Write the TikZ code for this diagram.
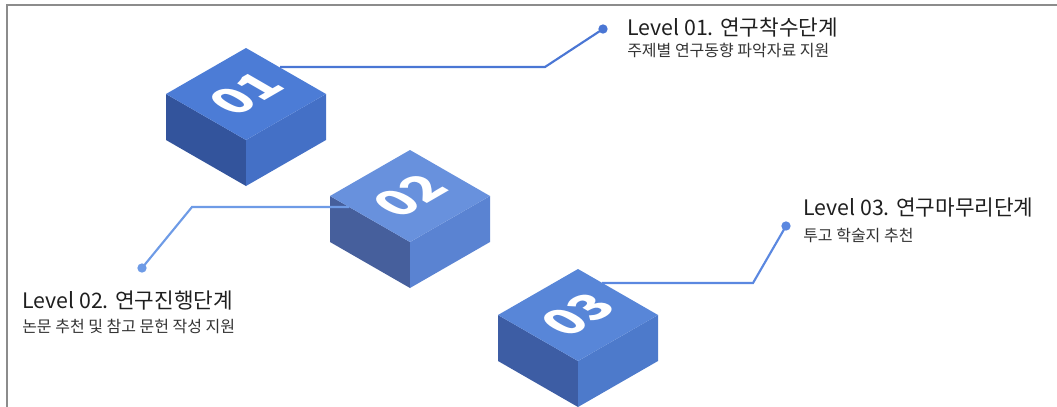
\documentclass[tikz,border=0pt]{standalone}
\usepackage{fontspec}
\newfontfamily\krfont{Noto Sans CJK KR}
\usepackage{tikz}
\definecolor{topA}{HTML}{4C7CD6}
\definecolor{leftA}{HTML}{33549C}
\definecolor{rightA}{HTML}{4470C6}
\definecolor{topB}{HTML}{6891DD}
\definecolor{leftB}{HTML}{465F9C}
\definecolor{rightB}{HTML}{5A83D2}
\definecolor{topC}{HTML}{5886D8}
\definecolor{leftC}{HTML}{3D5DA4}
\definecolor{rightC}{HTML}{4D7ACB}
\definecolor{lineA}{HTML}{4A76D4}
\definecolor{lineB}{HTML}{6E9BE6}
\definecolor{lineC}{HTML}{5B88E0}

\begin{document}
\begin{tikzpicture}[x=0.75pt,y=-0.75pt]
        \tikzset{title/.style = {anchor=base west,inner sep=0,text=black!88,font=\krfont\fontsize{16}{19}\selectfont}}
        \tikzset{sub/.style = {anchor=base west,inner sep=0,text=black!80,font=\krfont\fontsize{12}{14}\selectfont}}
        \tikzset{num/.style = {text=white,inner sep=0,font=\krfont\bfseries\fontsize{37}{37}\selectfont,transform shape,cm={0.866,0.5,-0.866,0.5,(0,0)}}}
        \tikzset{link/.style = {line width=1.6pt}}
        \tikzset{dot/.style = {circle,fill,inner sep=0,minimum size=7pt}}
        \useasboundingbox (0,0) rectangle (1057,407);
        \draw[gray!90,line width=0.8pt] (7,407) -- (7,5) -- (1057,5);
        % blocks
        \foreach \c/\x/\y/\ct/\cl/\cr/\lbl in {1/246/94/topA/leftA/rightA/01, 2/410/196/topB/leftB/rightB/02, 3/578/315/topC/leftC/rightC/03} {
            \fill[\cl] (\x-80,\y) -- (\x,\y+46) -- (\x,\y+92) -- (\x-80,\y+46) -- cycle;
            \fill[\cr] (\x+80,\y) -- (\x,\y+46) -- (\x,\y+92) -- (\x+80,\y+46) -- cycle;
            \fill[\ct] (\x,\y-46) -- (\x+80,\y) -- (\x,\y+46) -- (\x-80,\y) -- cycle;
            \node[num] (n\c) at (\x,\y) {\lbl};
        }
        \coordinate (s1) at (280,67);
        \coordinate (k1) at (545,67);
        \coordinate (s2) at (349,207);
        \coordinate (k2) at (192,207);
        \coordinate (s3) at (602,283);
        \coordinate (k3) at (753,283);
        \node[dot,lineA] (d1) at (603,29) {};
        \node[dot,lineB] (d2) at (142,268) {};
        \node[dot,lineC] (d3) at (786,226) {};
        \draw[link,lineA] (s1) -- (k1) -- (d1.center);
        \draw[link,lineB] (s2) -- (k2) -- (d2.center);
        \draw[link,lineC] (s3) -- (k3) -- (d3.center);
        % labels
        \node[title] (t1) at (627,35) {Level 01. 연구착수단계};
        \node[sub] (u1) at (627,56) {주제별 연구동향 파악자료 지원};
        \node[title] (t2) at (22,308) {Level 02. 연구진행단계};
        \node[sub] (u2) at (22,332) {논문 추천 및 참고 문헌 작성 지원};
        \node[title] (t3) at (803,215) {Level 03. 연구마무리단계};
        \node[sub] (u3) at (803,241) {투고 학술지 추천};
    \end{tikzpicture}
\end{document}
